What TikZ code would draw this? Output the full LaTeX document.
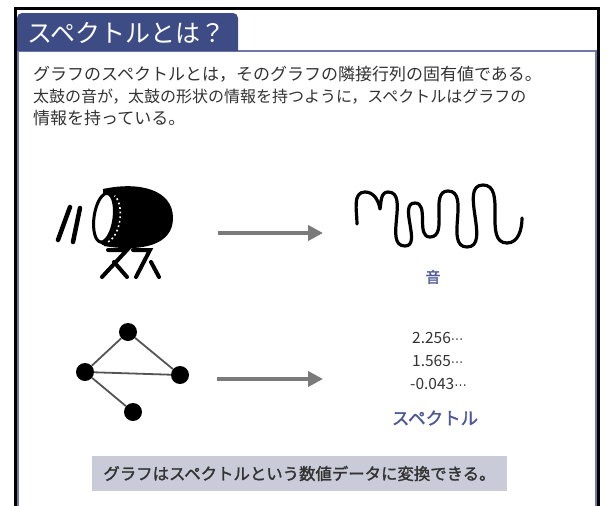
\documentclass[tikz,border=0pt]{standalone}
\usepackage{fontspec}
\setmainfont{Noto Sans CJK JP}
\newfontfamily\dotsfont{DejaVu Sans}
\newfontfamily\jpmedium{Noto Sans CJK JP}[FakeBold=1.6]
\usetikzlibrary{arrows.meta}

\definecolor{tabblue}{HTML}{3E4C86}
\definecolor{framelilac}{HTML}{7078A8}
\definecolor{labelblue}{HTML}{4B5799}
\definecolor{bodytext}{HTML}{333333}
\definecolor{arrowgray}{HTML}{7A7A7A}
\definecolor{edgegray}{HTML}{555555}
\definecolor{notegray}{HTML}{C9CCD8}

% centred trailing dots after a number
\newcommand{\trail}{{\dotsfont\fontsize{12.5}{12}\selectfont ⋯}}

\begin{document}
\begin{tikzpicture}[x=1pt,y=-1pt,
  bodyline/.style={anchor=base west, inner sep=0pt, text=bodytext,
    font=\fontsize{17}{17}\selectfont},
  numline/.style={anchor=west, inner sep=0pt, text=bodytext,
    font=\fontsize{15.5}{15}\selectfont},
  bluelabel/.style={inner sep=0pt, text=labelblue},
  bigarrow/.style={draw=arrowgray, line width=4.5pt,
    -{Triangle[length=15pt,width=15pt]}},
  vertex/.style={circle, fill=black, minimum size=18pt, inner sep=0pt},
  graphedge/.style={draw=edgegray, line width=1.8pt},
  inkstroke/.style={line width=4.5pt, line cap=round},
]
\useasboundingbox (0,0) rectangle (608,506);
\clip (0,0) rectangle (608,506);
\fill[white] (0,0) rectangle (608,506);

% frames
\draw[black, line width=3pt] (15.2,520) -- (15.2,8.5) -- (598.5,8.5) -- (598.5,520);
\draw[framelilac, line width=2pt] (18,520) -- (18,51) -- (596,51) -- (596,520);

% title tab
\fill[tabblue] (17,51) [rounded corners=5pt] -- (17,13) -- (238,13) [sharp corners] -- (238,51) -- cycle;
\node[anchor=west, inner sep=0pt, text=white, font=\fontsize{25}{25}\selectfont]
  (title) at (27,33) {スペクトルとは？};

% explanation
\node[bodyline] (line1) at (33,80) {グラフのスペクトルとは，そのグラフの隣接行列の固有値である。};
\node[bodyline, font=\fontsize{16}{16}\selectfont] (line2) at (33,102) {太鼓の音が，太鼓の形状の情報を持つように，スペクトルはグラフの};
\node[bodyline] (line3) at (33,124) {情報を持っている。};

% drum: sticks
\draw[inkstroke] (58,240) -- (70,207);
\draw[inkstroke] (73,242) -- (80,208);
% drum: stand
\draw[inkstroke, line width=4pt] (108,250) -- (127,250) -- (102,277);
\draw[inkstroke, line width=4pt] (114,262) -- (127,277);
\draw[inkstroke, line width=4pt] (133,250) -- (150,250) -- (136,277);
\draw[inkstroke, line width=4pt] (151,262) -- (159,277);
% drum: barrel body
\fill[black] (103,189) .. controls (140,181) and (173,190) .. (173,218)
  .. controls (173,246) and (140,252) .. (104,246) -- cycle;
\fill[black, rotate around={-8:(106,218)}] (109,218) ellipse [x radius=15pt, y radius=27.5pt];
\draw[white, line width=1.6pt, dash pattern=on 1.8pt off 2.8pt, rotate around={-8:(106,218)}]
  (107.5,218) ++(-72:12.5pt and 24.5pt) arc [start angle=-72, end angle=72, x radius=12.5pt, y radius=24.5pt];
\filldraw[fill=white, draw=black, line width=3pt, rotate around={-8:(106,218)}]
  (104,218) ellipse [x radius=10pt, y radius=24.5pt];

% sound wave
\draw[line width=3.2pt, line cap=round, line join=round]
  (357,224) to[out=90,in=180] (365,192) to[out=0,in=100] (380,209)
  to[out=80,in=180] (388,192) to[out=0,in=180] (405,246)
  to[out=0,in=180] (415,203) to[out=0,in=180] (430,237)
  to[out=0,in=180] (448,191) to[out=0,in=180] (467,247)
  to[out=0,in=180] (483,185) to[out=0,in=180] (507,243)
  to[out=0,in=270] (522,218);
\node[bluelabel, font=\fontsize{15}{15}\jpmedium] (oto) at (433,277) {音};

% upper arrow
\coordinate (a1s) at (218,233);
\coordinate (a1e) at (323,233);
\draw[bigarrow] (a1s) -- (a1e);

% small graph
\node[vertex] (vt) at (128,332) {};
\node[vertex] (vl) at (85,372) {};
\node[vertex] (vr) at (180,375) {};
\node[vertex] (vb) at (133,412) {};
\draw[graphedge] (vt) -- (vl);
\draw[graphedge] (vt) -- (vr);
\draw[graphedge] (vl) -- (vr);
\draw[graphedge] (vl) -- (vb);

% lower arrow
\coordinate (a2s) at (217,379);
\coordinate (a2e) at (323,379);
\draw[bigarrow] (a2s) -- (a2e);

% eigenvalues
\node[numline] (ev1) at (412,338) {2.256\trail};
\node[numline] (ev2) at (412,361) {1.565\trail};
\node[numline] (ev3) at (410,384) {-0.043\trail};
\node[bluelabel, font=\fontsize{17.5}{17}\jpmedium] (spec) at (435,418) {スペクトル};

% summary note
\node[fill=notegray, minimum width=415pt, minimum height=35pt, inner sep=0pt,
  text=bodytext, font=\fontsize{16.4}{16}\jpmedium]
  (note) at (299.5,473.5) {グラフはスペクトルという数値データに変換できる。};
\end{tikzpicture}
\end{document}
